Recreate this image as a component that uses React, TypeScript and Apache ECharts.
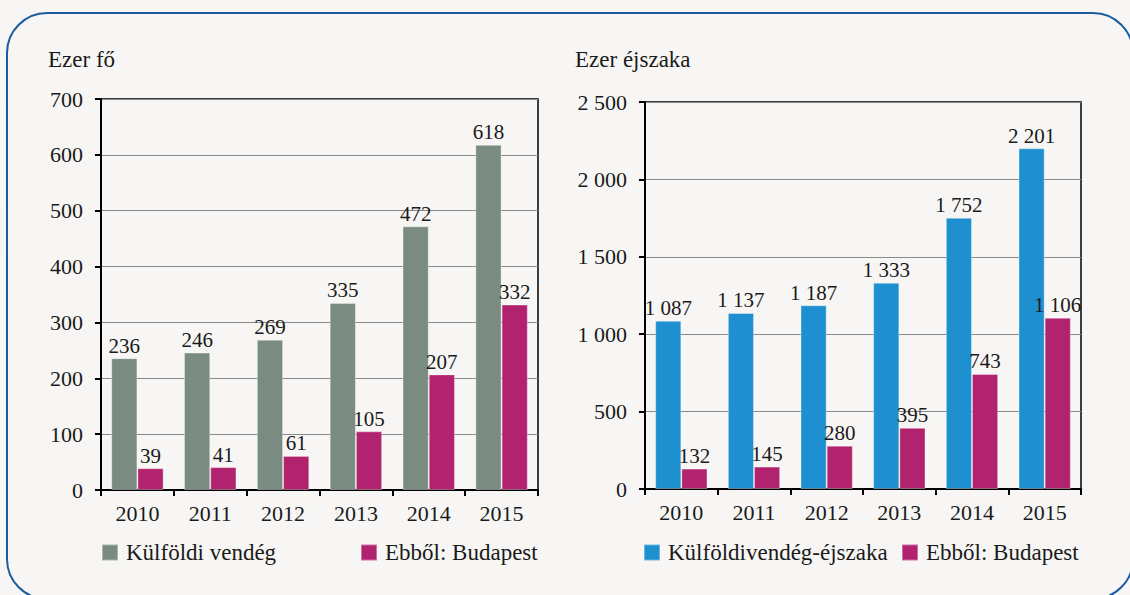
import React, { useEffect, useRef } from "react";
import * as echarts from "echarts";

const years = ["2010", "2011", "2012", "2013", "2014", "2015"];
const guestsForeign = [236, 246, 269, 335, 472, 618];
const guestsBudapest = [39, 41, 61, 105, 207, 332];
const nightsForeign = [1087, 1137, 1187, 1333, 1752, 2201];
const nightsBudapest = [132, 145, 280, 395, 743, 1106];

const leftTitle = "Ezer fő";
const rightTitle = "Ezer éjszaka";
const nameGuests = "Külföldi vendég";
const nameNights = "Külföldivendég-éjszaka";
const nameBudapest = "Ebből: Budapest";

const FONT = "Liberation Serif";
const TXT = "#1a1a1a";
const GRAY = "#7a8c82";
const MAGENTA = "#b1236f";
const BLUE = "#1f90cf";

const fmt = (v: number) =>
  v >= 1000 ? `${Math.floor(v / 1000)} ${String(v % 1000).padStart(3, "0")}` : String(v);

export default function App() {
  const ref = useRef<HTMLDivElement>(null);
  useEffect(() => {
    if (!ref.current) return;
    const chart = echarts.init(ref.current, undefined, { renderer: "svg" });
    const axisLabel = { fontFamily: FONT, fontSize: 22, color: TXT };
    const xAxisBase = {
      type: "category" as const,
      data: years,
      axisLine: { lineStyle: { color: "#000", width: 2 } },
      axisTick: { show: true, length: 6, lineStyle: { color: "#000", width: 2 } },
      axisLabel: { ...axisLabel, margin: 12 },
    };
    const yAxisBase = {
      type: "value" as const,
      min: 0,
      axisLine: { show: true, lineStyle: { color: "#000", width: 2 } },
      axisTick: { show: true, length: 6, lineStyle: { color: "#000", width: 2 } },
      splitLine: { show: true, lineStyle: { color: "#8a8a8a", width: 1 } },
    };
    const label = {
      show: true,
      position: "top" as const,
      distance: 2,
      fontFamily: FONT,
      fontSize: 21,
      color: TXT,
    };
    const barCommon = {
      type: "bar" as const,
      barWidth: "36%",
      barGap: "0%",
      itemStyle: { borderColor: "rgba(255,255,255,0.35)", borderWidth: 1 },
    };
    const legendBase = {
      itemWidth: 16,
      itemHeight: 16,
      icon: "rect",
      textStyle: { fontFamily: FONT, fontSize: 23, color: TXT, padding: [0, 0, 0, 3] },
      selectedMode: false,
      orient: "horizontal" as const,
      padding: 0,
    };
    chart.setOption({
      animation: false,
      backgroundColor: "#f7f6f4",
      grid: [
        { left: 101, top: 99, width: 437, height: 391, show: true, borderColor: "#000", borderWidth: 1.5, backgroundColor: "transparent" },
        { left: 645, top: 102, width: 436, height: 387, show: true, borderColor: "#000", borderWidth: 1.5, backgroundColor: "transparent" },
      ],
      xAxis: [
        { ...xAxisBase, gridIndex: 0 },
        { ...xAxisBase, gridIndex: 1 },
      ],
      yAxis: [
        { ...yAxisBase, gridIndex: 0, max: 700, interval: 100, axisLabel: { ...axisLabel, margin: 18 } },
        { ...yAxisBase, gridIndex: 1, max: 2500, interval: 500, axisLabel: { ...axisLabel, margin: 18, formatter: (v: number) => fmt(v) } },
      ],
      legend: [
        { ...legendBase, left: 101, top: 541, data: [nameGuests] },
        { ...legendBase, left: 360, top: 541, data: [nameBudapest] },
        { ...legendBase, left: 643, top: 541, data: [nameNights] },
        { ...legendBase, left: 901, top: 541, data: [nameBudapest] },
      ],
      series: [
        { ...barCommon, name: nameGuests, xAxisIndex: 0, yAxisIndex: 0, data: guestsForeign, color: GRAY, label },
        { ...barCommon, name: nameBudapest, xAxisIndex: 0, yAxisIndex: 0, data: guestsBudapest, color: MAGENTA, label },
        { ...barCommon, name: nameNights, xAxisIndex: 1, yAxisIndex: 1, data: nightsForeign, color: BLUE, label: { ...label, formatter: (p: any) => fmt(p.value) } },
        { ...barCommon, name: nameBudapest, xAxisIndex: 1, yAxisIndex: 1, data: nightsBudapest, color: MAGENTA, label: { ...label, formatter: (p: any) => fmt(p.value) } },
      ],
      graphic: [
        {
          type: "rect",
          shape: { x: 7, y: 13, width: 1126, height: 586, r: 40 },
          style: { fill: "none", stroke: "#1b5c9f", lineWidth: 2 },
          silent: true,
          z: -1,
        },
        { type: "text", x: 48, y: 59, style: { text: leftTitle, fontFamily: FONT, fontSize: 23, fill: TXT, verticalAlign: "middle" } },
        { type: "text", x: 575, y: 59, style: { text: rightTitle, fontFamily: FONT, fontSize: 23, fill: TXT, verticalAlign: "middle" } },
      ],
    });
    return () => chart.dispose();
  }, []);
  return (
    <div
      ref={ref}
      style={{ position: "fixed", left: 0, top: 0, width: 1130, height: 595 }}
    />
  );
}
